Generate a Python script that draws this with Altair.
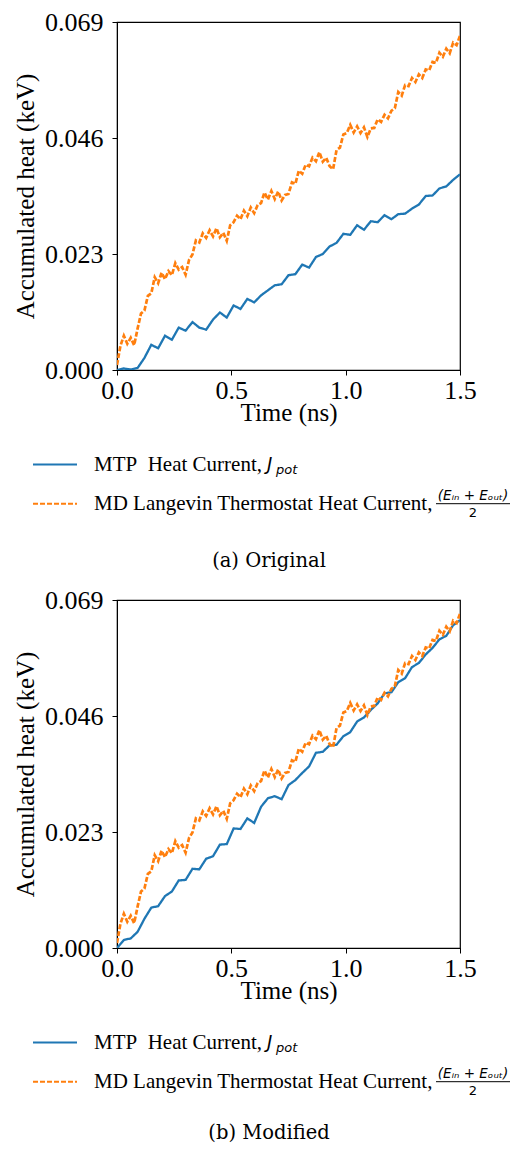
import altair as alt
import pandas as pd

# ---------------- data ----------------
t_orange = [0.000, 0.015, 0.030, 0.045, 0.060, 0.075, 0.090, 0.105, 0.120, 0.135,
            0.150, 0.165, 0.180, 0.195, 0.210, 0.225, 0.240, 0.255, 0.270, 0.285,
            0.300, 0.315, 0.330, 0.345, 0.360, 0.375, 0.390, 0.405, 0.420, 0.435,
            0.450, 0.465, 0.480, 0.495, 0.510, 0.525, 0.540, 0.555, 0.570, 0.585,
            0.600, 0.615, 0.630, 0.645, 0.660, 0.675, 0.690, 0.705, 0.720, 0.735,
            0.750, 0.765, 0.780, 0.795, 0.810, 0.825, 0.840, 0.855, 0.870, 0.885,
            0.900, 0.915, 0.930, 0.945, 0.960, 0.975, 0.990, 1.005, 1.020, 1.035,
            1.050, 1.065, 1.080, 1.095, 1.110, 1.125, 1.140, 1.155, 1.170, 1.185,
            1.200, 1.215, 1.230, 1.245, 1.260, 1.275, 1.290, 1.305, 1.320, 1.335,
            1.350, 1.365, 1.380, 1.395, 1.410, 1.425, 1.440, 1.455, 1.470, 1.485,
            1.500]
md_heat = [0.0010, 0.0048, 0.0068, 0.0052, 0.0064, 0.0049, 0.0082, 0.0112, 0.0118, 0.0147,
           0.0152, 0.0184, 0.0172, 0.0193, 0.0180, 0.0196, 0.0188, 0.0212, 0.0199, 0.0204,
           0.0189, 0.0218, 0.0229, 0.0257, 0.0253, 0.0271, 0.0262, 0.0277, 0.0265, 0.0281,
           0.0263, 0.0272, 0.0256, 0.0287, 0.0293, 0.0306, 0.0299, 0.0316, 0.0305, 0.0322,
           0.0311, 0.0327, 0.0331, 0.0352, 0.0338, 0.0355, 0.0339, 0.0354, 0.0336, 0.0347,
           0.0349, 0.0372, 0.0369, 0.0395, 0.0389, 0.0407, 0.0404, 0.0421, 0.0414, 0.0432,
           0.0413, 0.0421, 0.0404, 0.0398, 0.0436, 0.0441, 0.0467, 0.0470, 0.0486, 0.0471,
           0.0483, 0.0470, 0.0481, 0.0462, 0.0479, 0.0480, 0.0497, 0.0492, 0.0506, 0.0499,
           0.0514, 0.0519, 0.0551, 0.0544, 0.0565, 0.0563, 0.0579, 0.0571, 0.0586, 0.0579,
           0.0596, 0.0594, 0.0611, 0.0609, 0.0629, 0.0621, 0.0637, 0.0628, 0.0649, 0.0644,
           0.0663]

t_blue = [0.00, 0.03, 0.06, 0.09, 0.12, 0.15, 0.18, 0.21, 0.24, 0.27,
          0.30, 0.33, 0.36, 0.39, 0.42, 0.45, 0.48, 0.51, 0.54, 0.57,
          0.60, 0.63, 0.66, 0.69, 0.72, 0.75, 0.78, 0.81, 0.84, 0.87,
          0.90, 0.93, 0.96, 0.99, 1.02, 1.05, 1.08, 1.11, 1.14, 1.17,
          1.20, 1.23, 1.26, 1.29, 1.32, 1.35, 1.38, 1.41, 1.44, 1.47,
          1.50]
mtp_original = [0.0000, 0.0003, 0.0001, 0.0004, 0.0024, 0.0050, 0.0043, 0.0068, 0.0060, 0.0084,
                0.0078, 0.0095, 0.0084, 0.0080, 0.0100, 0.0114, 0.0104, 0.0128, 0.0121, 0.0141,
                0.0134, 0.0148, 0.0158, 0.0168, 0.0170, 0.0188, 0.0190, 0.0209, 0.0203, 0.0224,
                0.0230, 0.0245, 0.0252, 0.0270, 0.0268, 0.0287, 0.0278, 0.0295, 0.0293, 0.0307,
                0.0299, 0.0309, 0.0310, 0.0320, 0.0328, 0.0345, 0.0346, 0.0360, 0.0364, 0.0377,
                0.0388]
mtp_modified = [0.0000, 0.0016, 0.0019, 0.0032, 0.0058, 0.0080, 0.0083, 0.0103, 0.0112, 0.0134,
                0.0135, 0.0157, 0.0156, 0.0177, 0.0182, 0.0205, 0.0206, 0.0237, 0.0236, 0.0257,
                0.0248, 0.0280, 0.0297, 0.0301, 0.0295, 0.0323, 0.0333, 0.0347, 0.0360, 0.0387,
                0.0389, 0.0402, 0.0403, 0.0420, 0.0428, 0.0449, 0.0457, 0.0472, 0.0485, 0.0505,
                0.0507, 0.0527, 0.0535, 0.0557, 0.0565, 0.0582, 0.0595, 0.0612, 0.0619, 0.0640,
                0.0650]

x_ticks = [0.0, 0.5, 1.0, 1.5]
y_ticks = [0.000, 0.023, 0.046, 0.069]
series_names = ["MTP", "MD"]
captions = ["(a) Original", "(b) Modified"]

BLUE = "#1f77b4"
ORANGE = "#ff7f0e"
SERIF = "'Liberation Serif', 'Times New Roman', 'DejaVu Serif', serif"
CAPTION_FONT = "'DejaVu Serif', serif"
MATH = "'DejaVu Sans', sans-serif"

W, H = 343, 348


def one(attrs):
    return alt.Data(values=[attrs])


def panel(mtp_values, caption, caption_y):
    df = pd.concat([
        pd.DataFrame({"t": t_blue, "q": mtp_values, "s": "MTP"}),
        pd.DataFrame({"t": t_orange, "q": md_heat, "s": "MD"}),
    ])
    base = alt.Chart(df).mark_line(clip=True).encode(
        x=alt.X("t:Q", scale=alt.Scale(domain=[0, 1.5], nice=False, zero=False),
                axis=alt.Axis(values=x_ticks, format=".1f", title="Time (ns)",
                              labelPadding=2, titlePadding=-3)),
        y=alt.Y("q:Q", scale=alt.Scale(domain=[0, 0.069], nice=False),
                axis=alt.Axis(values=y_ticks, format=".3f", title="Accumulated heat (keV)",
                              labelPadding=9, titlePadding=6)),
        color=alt.Color("s:N", scale=alt.Scale(domain=series_names, range=[BLUE, ORANGE]), legend=None),
        strokeDash=alt.StrokeDash("s:N", scale=alt.Scale(domain=series_names, range=[[1, 0], [5, 2]]), legend=None),
        strokeWidth=alt.StrokeWidth("s:N", scale=alt.Scale(domain=series_names, range=[2.3, 2.7]), legend=None),
        order=alt.Order("t:Q"),
        detail="s:N",
    )

    def txt(text, x, y, size, font=SERIF, style="normal", align="left"):
        return alt.Chart(one({})).mark_text(
            font=font, fontSize=size, fontStyle=style, align=align, baseline="middle", color="black"
        ).encode(x=alt.value(x), y=alt.value(y), text=alt.value(text))

    def rule(x1, x2, y, color, dash=None, width=2):
        kw = dict(color=color, strokeWidth=width)
        if dash:
            kw["strokeDash"] = dash
        return alt.Chart(one({})).mark_rule(**kw).encode(
            x=alt.value(x1), x2=alt.value(x2), y=alt.value(y))

    l1 = 442.5
    l2 = 481.7
    layers = [
        base,
        rule(-84, -40, l1, BLUE),
        rule(-84, -40, l2, ORANGE, dash=[5, 2]),
        txt("MTP\u00a0\u00a0Heat Current,", -23, l1, 21),
        txt("J", 150, l1, 18, font=MATH, style="italic"),
        txt("pot", 159, l1 + 5, 13, font=MATH, style="italic"),
        txt("MD Langevin Thermostat Heat Current,", -23, l2, 21),
        txt("(E\u1d62\u2099 + E\u2092\u1d64\u209c)", 356, l2 - 8, 13.5, font=MATH, style="italic", align="center"),
        rule(319, 393, l2, "black", width=1),
        txt("2", 356, l2 + 9, 13, font=MATH, align="center"),
        txt(caption, 152, caption_y, 19.5, font=CAPTION_FONT, align="center"),
    ]
    return alt.layer(*layers).properties(width=W, height=H)


chart = alt.vconcat(
    panel(mtp_original, captions[0], 539),
    panel(mtp_modified, captions[1], 533),
    spacing=14,
).properties(padding={"top": 0, "left": 4, "right": 0, "bottom": 0}).configure_view(
    stroke="black", strokeWidth=1.2
).configure_axis(
    labelFont=SERIF, titleFont=SERIF, labelFontSize=26, titleFontSize=25,
    titleFontWeight="normal", labelColor="black", titleColor="black",
    domainColor="black", tickColor="black", tickSize=5,
    grid=False, labelFlush=False, labelOverlap=False,
)

chart.save("out.html", embed_options={"renderer": "svg", "actions": False})
